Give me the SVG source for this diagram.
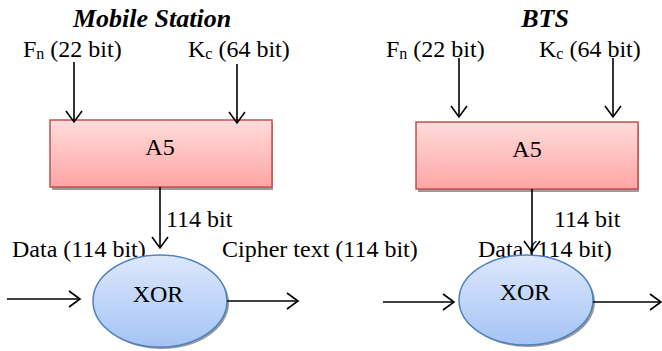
<svg xmlns="http://www.w3.org/2000/svg" width="662" height="351" viewBox="0 0 662 351">
<style>
text{font-family:"Liberation Serif","Times New Roman",Times,"DejaVu Serif",serif}
.t{font-size:24px;fill:#000}
.h{font-size:26px;font-weight:bold;font-style:italic;fill:#000}
.sub{font-size:16px}
.box{fill:url(#rg);stroke:#c0504d;stroke-width:1.5}
.ell{fill:url(#bg);stroke:#4f81bd;stroke-width:1.5}
.sh{fill:#9a9a9a}
.ln{stroke:#000;stroke-width:1.6;fill:none}
</style>
<defs>
<linearGradient id="rg" x1="0" y1="0" x2="0" y2="1"><stop offset="0" stop-color="#ffdcdc"/><stop offset="1" stop-color="#ffa5a5"/></linearGradient>
<linearGradient id="bg" x1="0" y1="0" x2="0" y2="1"><stop offset="0" stop-color="#dde8fc"/><stop offset="1" stop-color="#a5c3f4"/></linearGradient>
<marker id="ah" markerWidth="14" markerHeight="18" refX="12" refY="9" orient="auto" markerUnits="userSpaceOnUse"><path d="M1,1 L12,9 L1,17" fill="none" stroke="#000" stroke-width="1.6"/></marker>
</defs>
<g id="title-ms"><text class="h" x="152" y="27" text-anchor="middle">Mobile Station</text></g>
<g id="title-bts"><text class="h" x="545" y="27" text-anchor="middle">BTS</text></g>
<g id="labels-ms">
<text class="t" x="23" y="57">F<tspan class="sub" dy="2">n</tspan><tspan dy="-2"> (22 bit)</tspan></text>
<text class="t" x="188" y="57">K<tspan class="sub" dy="2">c</tspan><tspan dy="-2"> (64 bit)</tspan></text>
<text class="t" x="166" y="227">114 bit</text>
<text class="t" x="12" y="257">Data (114 bit)</text>
<text class="t" x="222" y="257">Cipher text (114 bit)</text>
</g>
<g id="labels-bts">
<text class="t" x="386" y="57">F<tspan class="sub" dy="2">n</tspan><tspan dy="-2"> (22 bit)</tspan></text>
<text class="t" x="539" y="57">K<tspan class="sub" dy="2">c</tspan><tspan dy="-2"> (64 bit)</tspan></text>
<text class="t" x="554" y="227">114 bit</text>
<text class="t" x="478" y="257">Data (114 bit)</text>
</g>
<g id="a5-ms">
<rect class="sh" x="52" y="123" width="221" height="67"/>
<rect class="box" x="50" y="120" width="222" height="67"/>
<text class="t" x="160" y="155" text-anchor="middle" font-size="25">A5</text>
</g>
<g id="a5-bts">
<rect class="sh" x="418" y="125" width="221" height="67"/>
<rect class="box" x="416" y="122" width="222" height="67"/>
<text class="t" x="527" y="157" text-anchor="middle" font-size="25">A5</text>
</g>
<g id="xor-ms">
<ellipse class="sh" cx="162" cy="303" rx="67" ry="46"/>
<ellipse class="ell" cx="160" cy="301" rx="67" ry="46"/>
<text class="t" x="158" y="302" text-anchor="middle">XOR</text>
</g>
<g id="xor-bts">
<ellipse class="sh" cx="528" cy="302" rx="67" ry="45"/>
<ellipse class="ell" cx="526" cy="300" rx="67" ry="45"/>
<text class="t" x="525" y="300" text-anchor="middle">XOR</text>
</g>
<g id="connectors">
<line class="ln" x1="74" y1="62" x2="74" y2="122" marker-end="url(#ah)"/>
<line class="ln" x1="237" y1="64" x2="237" y2="123" marker-end="url(#ah)"/>
<line class="ln" x1="160" y1="187" x2="160" y2="248" marker-end="url(#ah)"/>
<line class="ln" x1="7" y1="299" x2="80" y2="299" marker-end="url(#ah)"/>
<line class="ln" x1="227" y1="301" x2="298" y2="301" marker-end="url(#ah)"/>
<line class="ln" x1="459" y1="58" x2="459" y2="117" marker-end="url(#ah)"/>
<line class="ln" x1="613" y1="58" x2="613" y2="117" marker-end="url(#ah)"/>
<line class="ln" x1="532" y1="189" x2="532" y2="252" marker-end="url(#ah)"/>
<line class="ln" x1="383" y1="302" x2="454" y2="302" marker-end="url(#ah)"/>
<line class="ln" x1="593" y1="302" x2="661" y2="302" marker-end="url(#ah)"/>
</g>
</svg>
